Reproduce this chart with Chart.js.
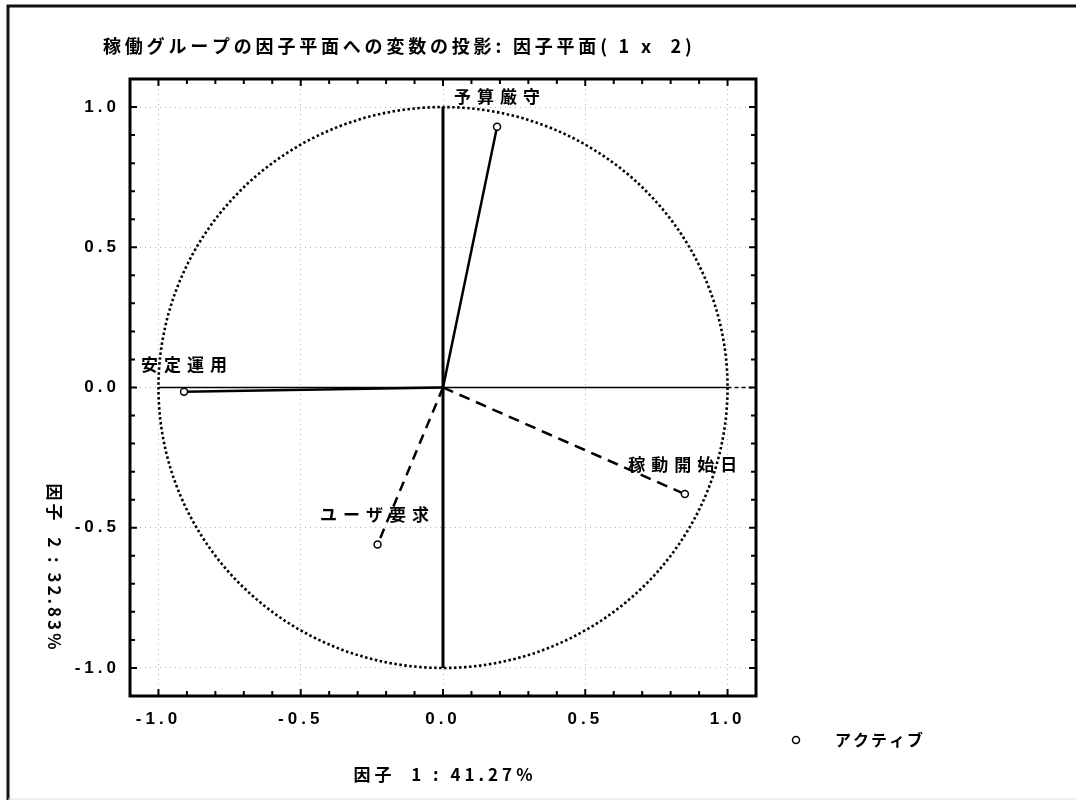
<!DOCTYPE html>
<html lang="ja">
<head>
<meta charset="utf-8">
<script src="https://cdn.jsdelivr.net/npm/chart.js@4"></script>
<style>
  html, body { margin: 0; padding: 0; background: #fff; }
  canvas { display: block; }
</style>
</head>
<body>
<canvas id="c" width="1080" height="803"></canvas>
<script>
// Variables projected onto the factor plane (factor 1 x factor 2)
const variables = ['予算厳守', '安定運用', 'ユーザ要求', '稼動開始日'];
const factor1 = [0.19, -0.91, -0.23, 0.85];
const factor2 = [0.93, -0.015, -0.56, -0.38];
const tickValues = [-1.0, -0.5, 0.0, 0.5, 1.0];

const titleText = '稼働グループの因子平面への変数の投影: 因子平面( 1 x  2)';
const xTitle = '因子  1 : 41.27%';
const yTitle = '因子  2 : 32.83%';
const legendText = 'アクティブ';

// line style per variable (solid / dashed)
const dashes = [[], [], [10, 7], [11, 7]];
// label offsets from each point, in px
const labelOffsets = [[0, -30], [0, -27], [-3, -30], [-2, -30]];

const JP = '"Noto Sans CJK JP", "Noto Sans", sans-serif';
const NUM = '"Liberation Sans", Arial, sans-serif';

const datasets = variables.map((name, i) => ({
  label: name,
  data: [{ x: 0, y: 0 }, { x: factor1[i], y: factor2[i] }],
  showLine: true,
  borderColor: '#000',
  borderWidth: 2.5,
  borderDash: dashes[i],
  pointRadius: [0, 3.5],
  pointBorderWidth: 1.5,
  pointBorderColor: '#000',
  pointBackgroundColor: '#fff'
}));

const frame = {
  id: 'frame',
  beforeDraw(chart) {
    const ctx = chart.ctx;
    ctx.save();
    ctx.fillStyle = '#fff';
    ctx.fillRect(0, 0, chart.width, chart.height);
    // page frame
    ctx.strokeStyle = '#111';
    ctx.lineWidth = 3;
    ctx.beginPath();
    ctx.moveTo(8, 800); ctx.lineTo(8, 6); ctx.lineTo(1076, 6);
    ctx.stroke();
    ctx.strokeStyle = '#ddd';
    ctx.lineWidth = 1;
    ctx.beginPath();
    ctx.moveTo(8, 799); ctx.lineTo(1076, 799);
    ctx.stroke();
    ctx.restore();
    // wide tracking for the tick labels
    ctx.letterSpacing = '4px';
  },
  beforeDatasetsDraw(chart) {
    const ctx = chart.ctx;
    const xs = chart.scales.x, ys = chart.scales.y;
    const x0 = xs.getPixelForValue(0), y0 = ys.getPixelForValue(0);
    ctx.save();
    ctx.letterSpacing = '0px';
    // unit circle
    const rx = xs.getPixelForValue(1) - x0;
    const ry = y0 - ys.getPixelForValue(1);
    ctx.strokeStyle = '#000';
    ctx.lineWidth = 2.6;
    ctx.setLineDash([2.5, 2.5]);
    ctx.beginPath();
    ctx.ellipse(x0, y0, rx, ry, 0, 0, Math.PI * 2);
    ctx.stroke();
    ctx.setLineDash([]);
    // zero axes
    ctx.lineWidth = 3;
    ctx.beginPath();
    ctx.moveTo(x0, ys.getPixelForValue(1));
    ctx.lineTo(x0, ys.getPixelForValue(-1));
    ctx.stroke();
    ctx.lineWidth = 1.6;
    ctx.beginPath();
    ctx.moveTo(xs.getPixelForValue(-1), y0);
    ctx.lineTo(xs.getPixelForValue(1), y0);
    ctx.stroke();
    ctx.setLineDash([4, 3]);
    ctx.beginPath();
    ctx.moveTo(xs.getPixelForValue(1), y0);
    ctx.lineTo(chart.chartArea.right, y0);
    ctx.stroke();
    ctx.restore();
  },
  afterDraw(chart) {
    const ctx = chart.ctx;
    const a = chart.chartArea;
    const xs = chart.scales.x, ys = chart.scales.y;
    ctx.save();
    ctx.letterSpacing = '0px';
    // plot box
    ctx.strokeStyle = '#000';
    ctx.lineWidth = 3;
    ctx.strokeRect(a.left, a.top, a.right - a.left, a.bottom - a.top);
    // inward minor ticks every 0.1
    ctx.lineWidth = 2;
    ctx.beginPath();
    for (let k = -11; k <= 11; k++) {
      const v = k / 10;
      const len = k % 5 === 0 ? 7 : 5;
      const px = xs.getPixelForValue(v), py = ys.getPixelForValue(v);
      ctx.moveTo(px, a.bottom); ctx.lineTo(px, a.bottom - len);
      ctx.moveTo(px, a.top); ctx.lineTo(px, a.top + len);
      ctx.moveTo(a.left, py); ctx.lineTo(a.left + len, py);
      ctx.moveTo(a.right, py); ctx.lineTo(a.right - len, py);
    }
    ctx.stroke();

    ctx.fillStyle = '#000';
    // point labels
    ctx.font = 'bold 17px ' + JP;
    ctx.letterSpacing = '6px';
    ctx.textAlign = 'center';
    ctx.textBaseline = 'middle';
    variables.forEach((name, i) => {
      const px = xs.getPixelForValue(factor1[i]) + labelOffsets[i][0] + 3;
      const py = ys.getPixelForValue(factor2[i]) + labelOffsets[i][1];
      ctx.fillText(name, px, py);
    });

    // chart title
    ctx.font = 'bold 18px ' + JP;
    ctx.letterSpacing = '3.8px';
    ctx.textAlign = 'left';
    ctx.fillText(titleText, 103, 46);

    // axis titles
    ctx.font = 'bold 17px ' + JP;
    ctx.letterSpacing = '4px';
    ctx.textAlign = 'center';
    ctx.fillText(xTitle, 445, 775);
    ctx.letterSpacing = '3px';
    ctx.save();
    ctx.translate(54, 568);
    ctx.rotate(Math.PI / 2);
    ctx.fillText(yTitle, 0, 0);
    ctx.restore();

    // legend
    ctx.letterSpacing = '0px';
    ctx.lineWidth = 1.5;
    ctx.beginPath();
    ctx.arc(796, 740, 3.5, 0, Math.PI * 2);
    ctx.stroke();
    ctx.font = 'bold 16px ' + JP;
    ctx.letterSpacing = '2px';
    ctx.textAlign = 'left';
    ctx.fillText(legendText, 835, 740);
    ctx.restore();
    ctx.letterSpacing = '0px';
  }
};

const axisCommon = {
  type: 'linear',
  min: -1.1,
  max: 1.1,
  afterBuildTicks(scale) {
    scale.ticks = tickValues.map(v => ({ value: v }));
  },
  border: { display: false, dash: [1, 4] },
  grid: {
    color: 'rgba(0,0,0,0.3)',
    lineWidth: 1,
    drawTicks: false
  },
  ticks: {
    color: '#000',
    font: { family: NUM, size: 17, weight: 'bold' },
    callback: v => Number(v).toFixed(1)
  }
};

new Chart(document.getElementById('c'), {
  type: 'scatter',
  data: { datasets },
  plugins: [frame],
  options: {
    responsive: false,
    animation: false,
    layout: { padding: { left: 0, top: 79, right: 324, bottom: 0 } },
    plugins: {
      legend: { display: false },
      tooltip: { enabled: false }
    },
    scales: {
      x: Object.assign({}, axisCommon, {
        position: 'bottom',
        afterFit(s) { s.height = 107; },
        ticks: Object.assign({}, axisCommon.ticks, { padding: 13 })
      }),
      y: Object.assign({}, axisCommon, {
        position: 'left',
        afterFit(s) { s.width = 130; },
        ticks: Object.assign({}, axisCommon.ticks, { padding: 10 })
      })
    }
  }
});
</script>
</body>
</html>
